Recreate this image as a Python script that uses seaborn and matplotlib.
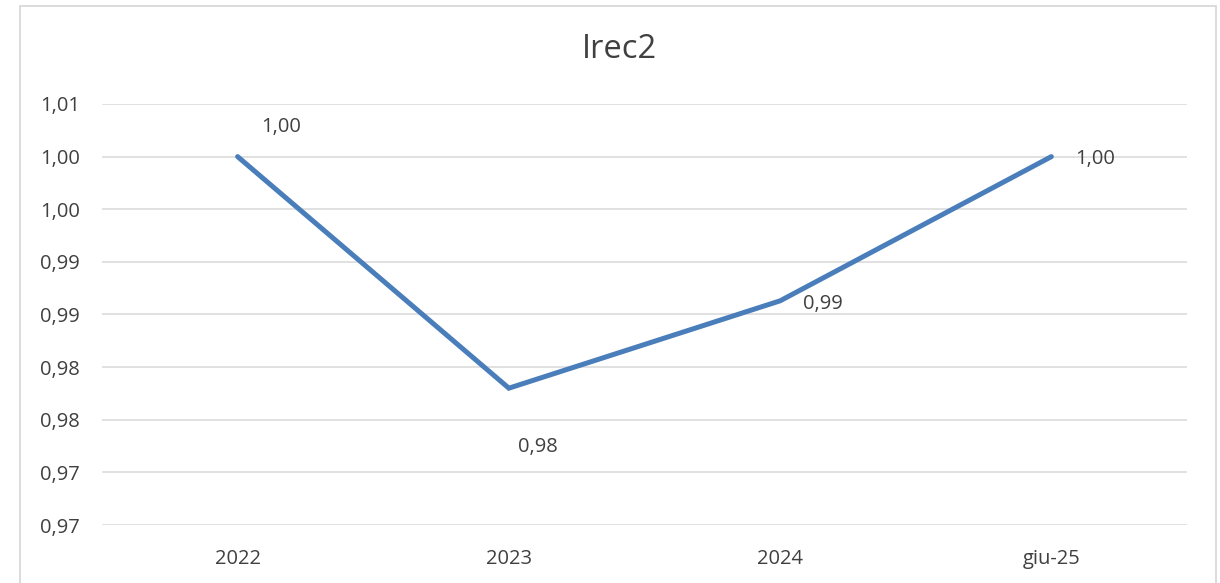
import matplotlib
matplotlib.use("Agg")
import matplotlib.pyplot as plt
import matplotlib.patches as patches
from matplotlib.ticker import FuncFormatter, MultipleLocator
import seaborn as sns
import pandas as pd

periods = ["2022", "2023", "2024", "giu-25"]
irec2 = [1.000, 0.978, 0.9863, 1.000]

df = pd.DataFrame({"period": periods, "value": irec2})


def comma_fmt(v, pos=None):
    return f"{round(v + 1e-9, 2):.2f}".replace(".", ",")


sns.set_theme(style="white")
plt.rcParams["font.family"] = ["Open Sans", "DejaVu Sans"]
text_col = "#404040"

fig = plt.figure(figsize=(12.2, 5.83), dpi=100)
ax = fig.add_axes([102 / 1220, 1 - 525 / 583, (1187 - 102) / 1220, (525 - 104) / 583])

sns.lineplot(data=df, x="period", y="value", ax=ax, color="#4A7EBB",
             linewidth=3.6, solid_capstyle="round", solid_joinstyle="miter")

ax.set_xlim(-0.5, 3.5)
ax.set_ylim(0.965, 1.005)
ax.yaxis.set_major_locator(MultipleLocator(0.005))
ax.yaxis.set_major_formatter(FuncFormatter(comma_fmt))
ax.grid(axis="y", color="#D9D9D9", linewidth=1.1)
ax.set_axisbelow(True)
for s in ax.spines.values():
    s.set_visible(False)
ax.set_xlabel("")
ax.set_ylabel("")
ax.tick_params(axis="both", length=0, labelsize=14.5, labelcolor=text_col)
ax.tick_params(axis="y", pad=16)
ax.tick_params(axis="x", pad=17)

# data labels
offsets = [(17, 21.5), (6.5, -42), (16.5, -2), (17, -2)]
for i, (v, off) in enumerate(zip(irec2, offsets)):
    ax.annotate(comma_fmt(v), (i, v), xytext=off, textcoords="offset points",
                ha="left", va="center", fontsize=14.5, color=text_col)

fig.text(619 / 1220, 1 - 50 / 583, "Irec2", ha="center", va="center",
         fontsize=23.5, color=text_col)

border = patches.Rectangle((20 / 1220, -0.01), (1216 - 20) / 1220, 1 - 6 / 583 + 0.01,
                           transform=fig.transFigure, fill=False,
                           edgecolor="#D9D9D9", linewidth=1.3, clip_on=False)
fig.patches.append(border)

fig.savefig("out.png", dpi=100)
